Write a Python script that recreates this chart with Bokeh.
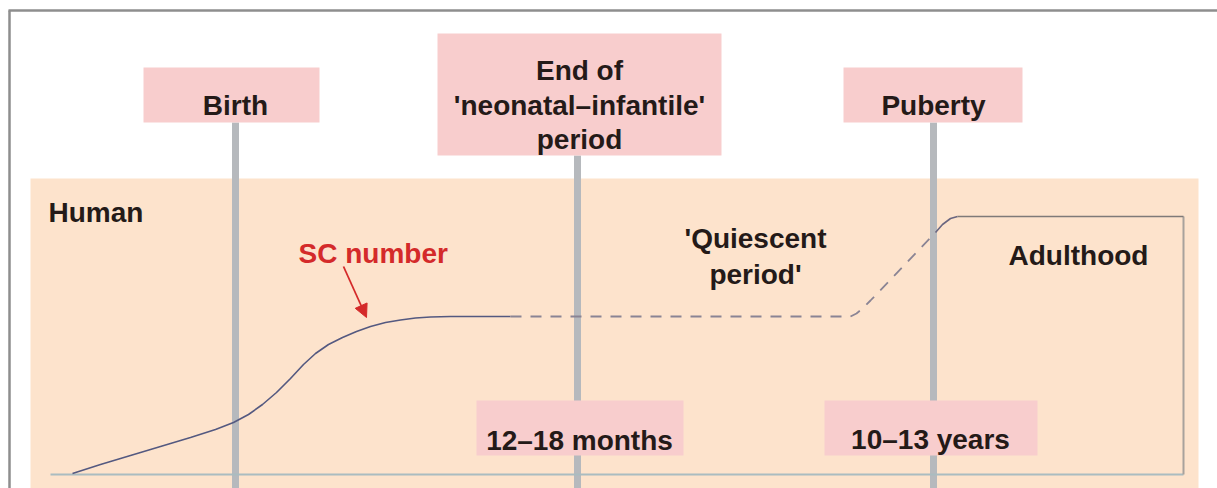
from bokeh.plotting import figure
from bokeh.models import Range1d, Arrow, NormalHead
from bokeh.core.properties import value
from bokeh.embed import file_html
from bokeh.resources import INLINE

# ---- data (schematic timeline; x = timeline position, y = drawing height, down-positive) ----
milestones = ["Birth", "End of\n'neonatal\u2013infantile'\nperiod", "Puberty"]
milestone_x = [235, 577, 933]
ages = ["12\u201318 months", "10\u201313 years"]
age_x = [579, 930]

# SC number curve (solid rise), dashed quiescent plateau, dashed pubertal rise, solid adult
sc_rise_x = [72, 100, 130, 160, 190, 215, 233, 248, 262, 276, 290, 303, 315, 328, 342,
             356, 370, 385, 400, 415, 430, 450, 510]
sc_rise_y = [473, 464, 455, 446, 437, 429, 422, 414, 404, 392, 378, 364, 353, 344, 337,
             331, 326, 322, 319.5, 317.5, 316.5, 316, 316]
quiet_x = [510, 850, 856, 862, 870, 935]
quiet_y = [316, 316, 313, 308, 300, 232]
puberty_x = [935, 942, 950, 957]
puberty_y = [232, 224, 218, 216]
adult_x = [957, 1183]
adult_y = [216, 216]

FONT = value("Liberation Sans")
TXT = "#241a18"
W, H = 1217, 488

p = figure(width=W, height=H, output_backend="svg", toolbar_location=None,
           x_range=Range1d(0, W), y_range=Range1d(H, 0),
           x_axis_location=None, y_axis_location=None, min_border=0,
           background_fill_color="white", border_fill_color="white")
p.outline_line_color = None
p.grid.visible = False

# peach panel
p.quad(left=[30], right=[1198], top=[178], bottom=[H + 2], fill_color="#fde3cc", line_color=None)

# outer frame lines
p.segment(x0=[8], y0=[10], x1=[W], y1=[10], line_color="#8e8e8e", line_width=2.5)
p.segment(x0=[9], y0=[10], x1=[9], y1=[H + 2], line_color="#8e8e8e", line_width=2.5)

# milestone vertical bars
box_bottoms = [122, 155, 122]
p.segment(x0=milestone_x, y0=box_bottoms, x1=milestone_x, y1=[H + 2] * 3,
          line_color="#b6b9bd", line_width=7)

# milestone boxes
p.quad(left=[143, 437, 843], right=[319, 721, 1022], top=[67, 33, 67], bottom=box_bottoms,
       fill_color="#f8cdcd", line_color=None)
# age boxes
p.quad(left=[476, 824], right=[683, 1037], top=[400, 400], bottom=[455, 455],
       fill_color="#f8cdcd", line_color=None)

# axis-like frame of the graph
p.segment(x0=[50], y0=[474], x1=[1183], y1=[474], line_color="#aabcc0", line_width=2)
p.segment(x0=[1183], y0=[216], x1=[1183], y1=[474], line_color="#a8a29c", line_width=2)

# curves
p.line(sc_rise_x, sc_rise_y, line_color="#545980", line_width=1.6)
p.line(quiet_x, quiet_y, line_color="#8a8494", line_width=1.8, line_dash="11 9")
p.line(puberty_x, puberty_y, line_color="#6a6680", line_width=1.6)
p.line(adult_x, adult_y, line_color="#7f7a78", line_width=1.6)

# arrow
p.add_layout(Arrow(end=NormalHead(size=13, fill_color="#d42a2a", line_color="#d42a2a"),
                   x_start=343, y_start=266, x_end=366, y_end=317,
                   line_color="#d42a2a", line_width=1.8))

def txt(x, y, s, color=TXT, align="center", size="28px"):
    p.text(x=[x], y=[y], text=[s], text_font=FONT, text_font_size=size, text_color=color,
           text_align=align, text_baseline="alphabetic", text_font_style="bold")

# milestone labels
txt(milestone_x[0], 105, milestones[0])
for i, line in enumerate(milestones[1].split("\n")):
    txt(579, 70 + i * 34.5, line)
txt(milestone_x[2], 105, milestones[2])

# age labels
txt(age_x[0], 440, ages[0])
txt(age_x[1], 439, ages[1])

# region labels
txt(48, 212, "Human", align="left")
txt(298, 253, "SC number", color="#d42a2a", align="left")
txt(755, 238, "'Quiescent")
txt(755, 274, "period'")
txt(1078, 255, "Adulthood")

open("out.html", "w").write(file_html(p, INLINE))
